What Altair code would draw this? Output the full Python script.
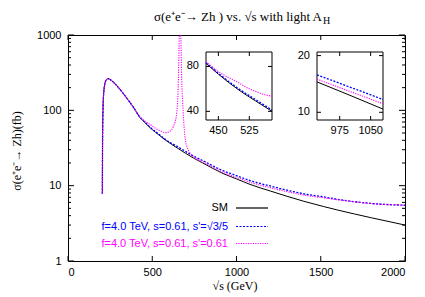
import altair as alt
import pandas as pd

# ---------------- data ----------------
low_x = [204, 205, 206, 208, 211, 215, 220, 228, 237, 250, 270, 300, 350, 400]
low_y = [7.8, 35, 65, 110, 160, 200, 232, 255, 264, 256, 236, 200, 144, 100]

sm_x = [420, 450, 500, 540, 580, 650, 744, 800, 920, 1000, 1080, 1200, 1400, 1515, 1600, 1800, 2000]
sm_y = [84, 71, 55.5, 47, 40, 31.5, 23.3, 20, 14.5, 12.3, 10.4, 8.5, 6.2, 5.3, 4.75, 3.75, 3.0]

blue_x = [420, 450, 500, 540, 580, 650, 744, 800, 920, 1000, 1080, 1200, 1400, 1515, 1600, 1800, 2000]
blue_y = [85, 72, 56.5, 48, 40.8, 33, 24.8, 21.5, 15.8, 13.6, 11.7, 9.9, 7.8, 7.1, 6.6, 5.8, 5.5]

mag_x = [420, 450, 500, 520, 540, 560, 580, 600, 615, 625, 635, 645, 650, 655, 659, 662, 665,
         668, 671, 675, 680, 684, 689, 694, 704, 714, 744, 800, 920, 1000, 1080, 1200, 1400,
         1515, 1600, 1800, 2000]
mag_y = [86, 74, 62, 57.5, 54.5, 52, 50.5, 52, 55.5, 60.7, 70, 91, 125, 253, 700, 1500, 3000,
         1500, 700, 253, 135, 91, 60, 44.7, 34, 29.7, 24.3, 20.9, 15.0, 12.9, 11.1, 9.4, 7.5,
         6.9, 6.5, 5.8, 5.5]

x_ticks = [0, 500, 1000, 1500, 2000]
y_major = [1, 10, 100, 1000]
y_minor = [2, 3, 4, 5, 6, 7, 8, 9, 20, 30, 40, 50, 60, 70, 80, 90, 200, 300, 400, 500, 600, 700, 800, 900]

inset1_xticks = [450, 525]
inset1_yticks = [40, 80]
inset2_xticks = [975, 1050]
inset2_yticks = [10, 20]

legend_labels = ["SM", "f=4.0 TeV, s=0.61, s'=\u221a3/5", "f=4.0 TeV, s=0.61, s'=0.61"]
legend_colors = ["#000000", "#0000ff", "#ff00ff"]

# ---------------- styling ----------------
W, H = 337, 226
SANS = "Liberation Sans"
SERIF = "Liberation Serif"
BLUE_DASH = [2, 1.5]
MAG_DASH = [1.2, 1.2]

sm_df = pd.DataFrame({"x": low_x + sm_x, "y": low_y + sm_y})
blue_df = pd.DataFrame({"x": low_x + blue_x, "y": low_y + blue_y})
mag_df = pd.DataFrame({"x": low_x + mag_x, "y": low_y + mag_y})
one = pd.DataFrame({"a": [0]})

xs = alt.Scale(domain=[0, 2000], nice=False, zero=False)
ys = alt.Scale(type="log", domain=[1, 1000], nice=False)
x_axis = alt.Axis(values=x_ticks, ticks=False, domain=False, grid=False, labelFont=SANS,
                  labelFontSize=11, labelColor="black", labelPadding=5, title=None, format="d")
y_axis = alt.Axis(values=y_major, ticks=False, domain=False, grid=False, labelFont=SANS,
                  labelFontSize=11, labelColor="black", labelPadding=7, title=None, format="d")


def series(df, color, dash, width, xscale, yscale, xaxis, yaxis, clip=True, filt=None):
    kw = dict(color=color, strokeWidth=width, clip=clip, interpolate="monotone")
    if dash is not None:
        kw["strokeDash"] = dash
    c = alt.Chart(df)
    if filt is not None:
        c = c.transform_filter((alt.datum.x >= filt[0]) & (alt.datum.x <= filt[1]))
    return c.mark_line(**kw).encode(
        x=alt.X("x:Q", scale=xscale, axis=xaxis),
        y=alt.Y("y:Q", scale=yscale, axis=yaxis),
    )


def text(s, x, y, size=11, font=SANS, color="black", align="center", baseline="middle", angle=0):
    return alt.Chart(one).mark_text(
        text=s, font=font, fontSize=size, color=color, align=align, baseline=baseline,
        angle=angle,
    ).encode(x=alt.value(x), y=alt.value(y))


# ---------------- main panel ----------------
main_lines = [
    series(sm_df, "black", None, 1, xs, ys, x_axis, y_axis),
    series(blue_df, "#0000ff", BLUE_DASH, 1.3, xs, ys, x_axis, y_axis),
    series(mag_df, "#ff00ff", MAG_DASH, 1.1, xs, ys, x_axis, y_axis),
]

xt = pd.DataFrame({"v": x_ticks})
ymaj = pd.DataFrame({"v": y_major})
ymin = pd.DataFrame({"v": y_minor})
main_ticks = [
    alt.Chart(xt).mark_rule(color="black").encode(
        x=alt.X("v:Q", scale=xs, axis=x_axis), y=alt.value(H), y2=alt.value(H - 5)),
    alt.Chart(xt).mark_rule(color="black").encode(
        x=alt.X("v:Q", scale=xs, axis=x_axis), y=alt.value(0), y2=alt.value(5)),
    alt.Chart(ymaj).mark_rule(color="black").encode(
        y=alt.Y("v:Q", scale=ys, axis=y_axis), x=alt.value(0), x2=alt.value(6)),
    alt.Chart(ymaj).mark_rule(color="black").encode(
        y=alt.Y("v:Q", scale=ys, axis=y_axis), x=alt.value(W - 6), x2=alt.value(W)),
    alt.Chart(ymin).mark_rule(color="black").encode(
        y=alt.Y("v:Q", scale=ys, axis=y_axis), x=alt.value(0), x2=alt.value(3)),
    alt.Chart(ymin).mark_rule(color="black").encode(
        y=alt.Y("v:Q", scale=ys, axis=y_axis), x=alt.value(W - 3), x2=alt.value(W)),
]

legend_rows = [173, 191.5, 208.5]
legend_parts = []
dashes = [None, BLUE_DASH, MAG_DASH]
for lab, col, yy, d in zip(legend_labels, legend_colors, legend_rows, dashes):
    legend_parts.append(text(lab, 160, yy, size=11, color=col, align="right"))
    kw = dict(color=col, strokeWidth=1.2)
    if d is not None:
        kw["strokeDash"] = d
    legend_parts.append(alt.Chart(one).mark_rule(**kw).encode(
        x=alt.value(168), x2=alt.value(200), y=alt.value(yy)))

titles = [
    text("\u03c3(e\u207ae\u207b\u2192 Zh ) vs. \u221as with light A", 254, -14.5, size=13,
         font=SERIF, align="right", baseline="alphabetic"),
    text("H", 255, -11, size=10, font=SERIF, align="left", baseline="alphabetic"),
    text("\u221as (GeV)", 167, 251, size=12, font=SERIF),
    text("\u03c3(e\u207ae\u207b\u2192 Zh)(fb)", -51, 116, size=12, font=SERIF, angle=270),
]

main = alt.layer(*main_lines, *main_ticks, *legend_parts, *titles)


# ---------------- insets ----------------
def inset(xdom, ydom, xr, yr, xticks, yticks, xt_labels, yt_labels):
    ixs = alt.Scale(domain=xdom, range=xr, nice=False, zero=False)
    iys = alt.Scale(type="log", domain=ydom, range=yr, nice=False)
    left, right = xr
    bottom, top = yr
    frame = alt.Chart(one).mark_rect(fill="white", stroke="black", strokeWidth=1).encode(
        x=alt.value(left), x2=alt.value(right), y=alt.value(top), y2=alt.value(bottom))
    lines = [
        series(sm_df, "black", None, 1, ixs, iys, None, None, clip=False, filt=xdom),
        series(blue_df, "#0000ff", BLUE_DASH, 1.3, ixs, iys, None, None, clip=False, filt=xdom),
        series(mag_df, "#ff00ff", MAG_DASH, 1.1, ixs, iys, None, None, clip=False, filt=xdom),
    ]
    xtd = pd.DataFrame({"v": xticks, "t": xt_labels})
    ytd = pd.DataFrame({"v": yticks, "t": yt_labels})
    ticks = [
        alt.Chart(xtd).mark_rule(color="black").encode(
            x=alt.X("v:Q", scale=ixs, axis=None), y=alt.value(bottom), y2=alt.value(bottom - 4)),
        alt.Chart(xtd).mark_rule(color="black").encode(
            x=alt.X("v:Q", scale=ixs, axis=None), y=alt.value(top), y2=alt.value(top + 4)),
        alt.Chart(ytd).mark_rule(color="black").encode(
            y=alt.Y("v:Q", scale=iys, axis=None), x=alt.value(left), x2=alt.value(left + 4)),
        alt.Chart(ytd).mark_rule(color="black").encode(
            y=alt.Y("v:Q", scale=iys, axis=None), x=alt.value(right - 4), x2=alt.value(right)),
        alt.Chart(xtd).mark_text(font=SANS, fontSize=11, color="black", baseline="middle").encode(
            x=alt.X("v:Q", scale=ixs, axis=None), y=alt.value(bottom + 11), text="t:N"),
        alt.Chart(ytd).mark_text(font=SANS, fontSize=11, color="black", baseline="middle",
                                 align="right").encode(
            y=alt.Y("v:Q", scale=iys, axis=None), x=alt.value(left - 7), text="t:N"),
    ]
    return alt.layer(frame, *lines, *ticks)


inset1 = inset([420, 580], [35, 100], [138, 204], [85, 17], inset1_xticks, inset1_yticks,
               ["450", "525"], ["40", "80"])
inset2 = inset([920, 1080], [9.1, 20.9], [249, 315], [85, 17], inset2_xticks, inset2_yticks,
               ["975", "1050"], ["10", "20"])

chart = alt.layer(main, inset1, inset2).resolve_scale(
    x="independent", y="independent"
).properties(
    width=W, height=H,
    padding={"left": 60, "top": 27, "right": 8, "bottom": 33},
    autosize=alt.AutoSizeParams(type="none"),
).configure_view(stroke="black", strokeWidth=1)

chart.save("out.html", embed_options={"renderer": "svg", "actions": False})
